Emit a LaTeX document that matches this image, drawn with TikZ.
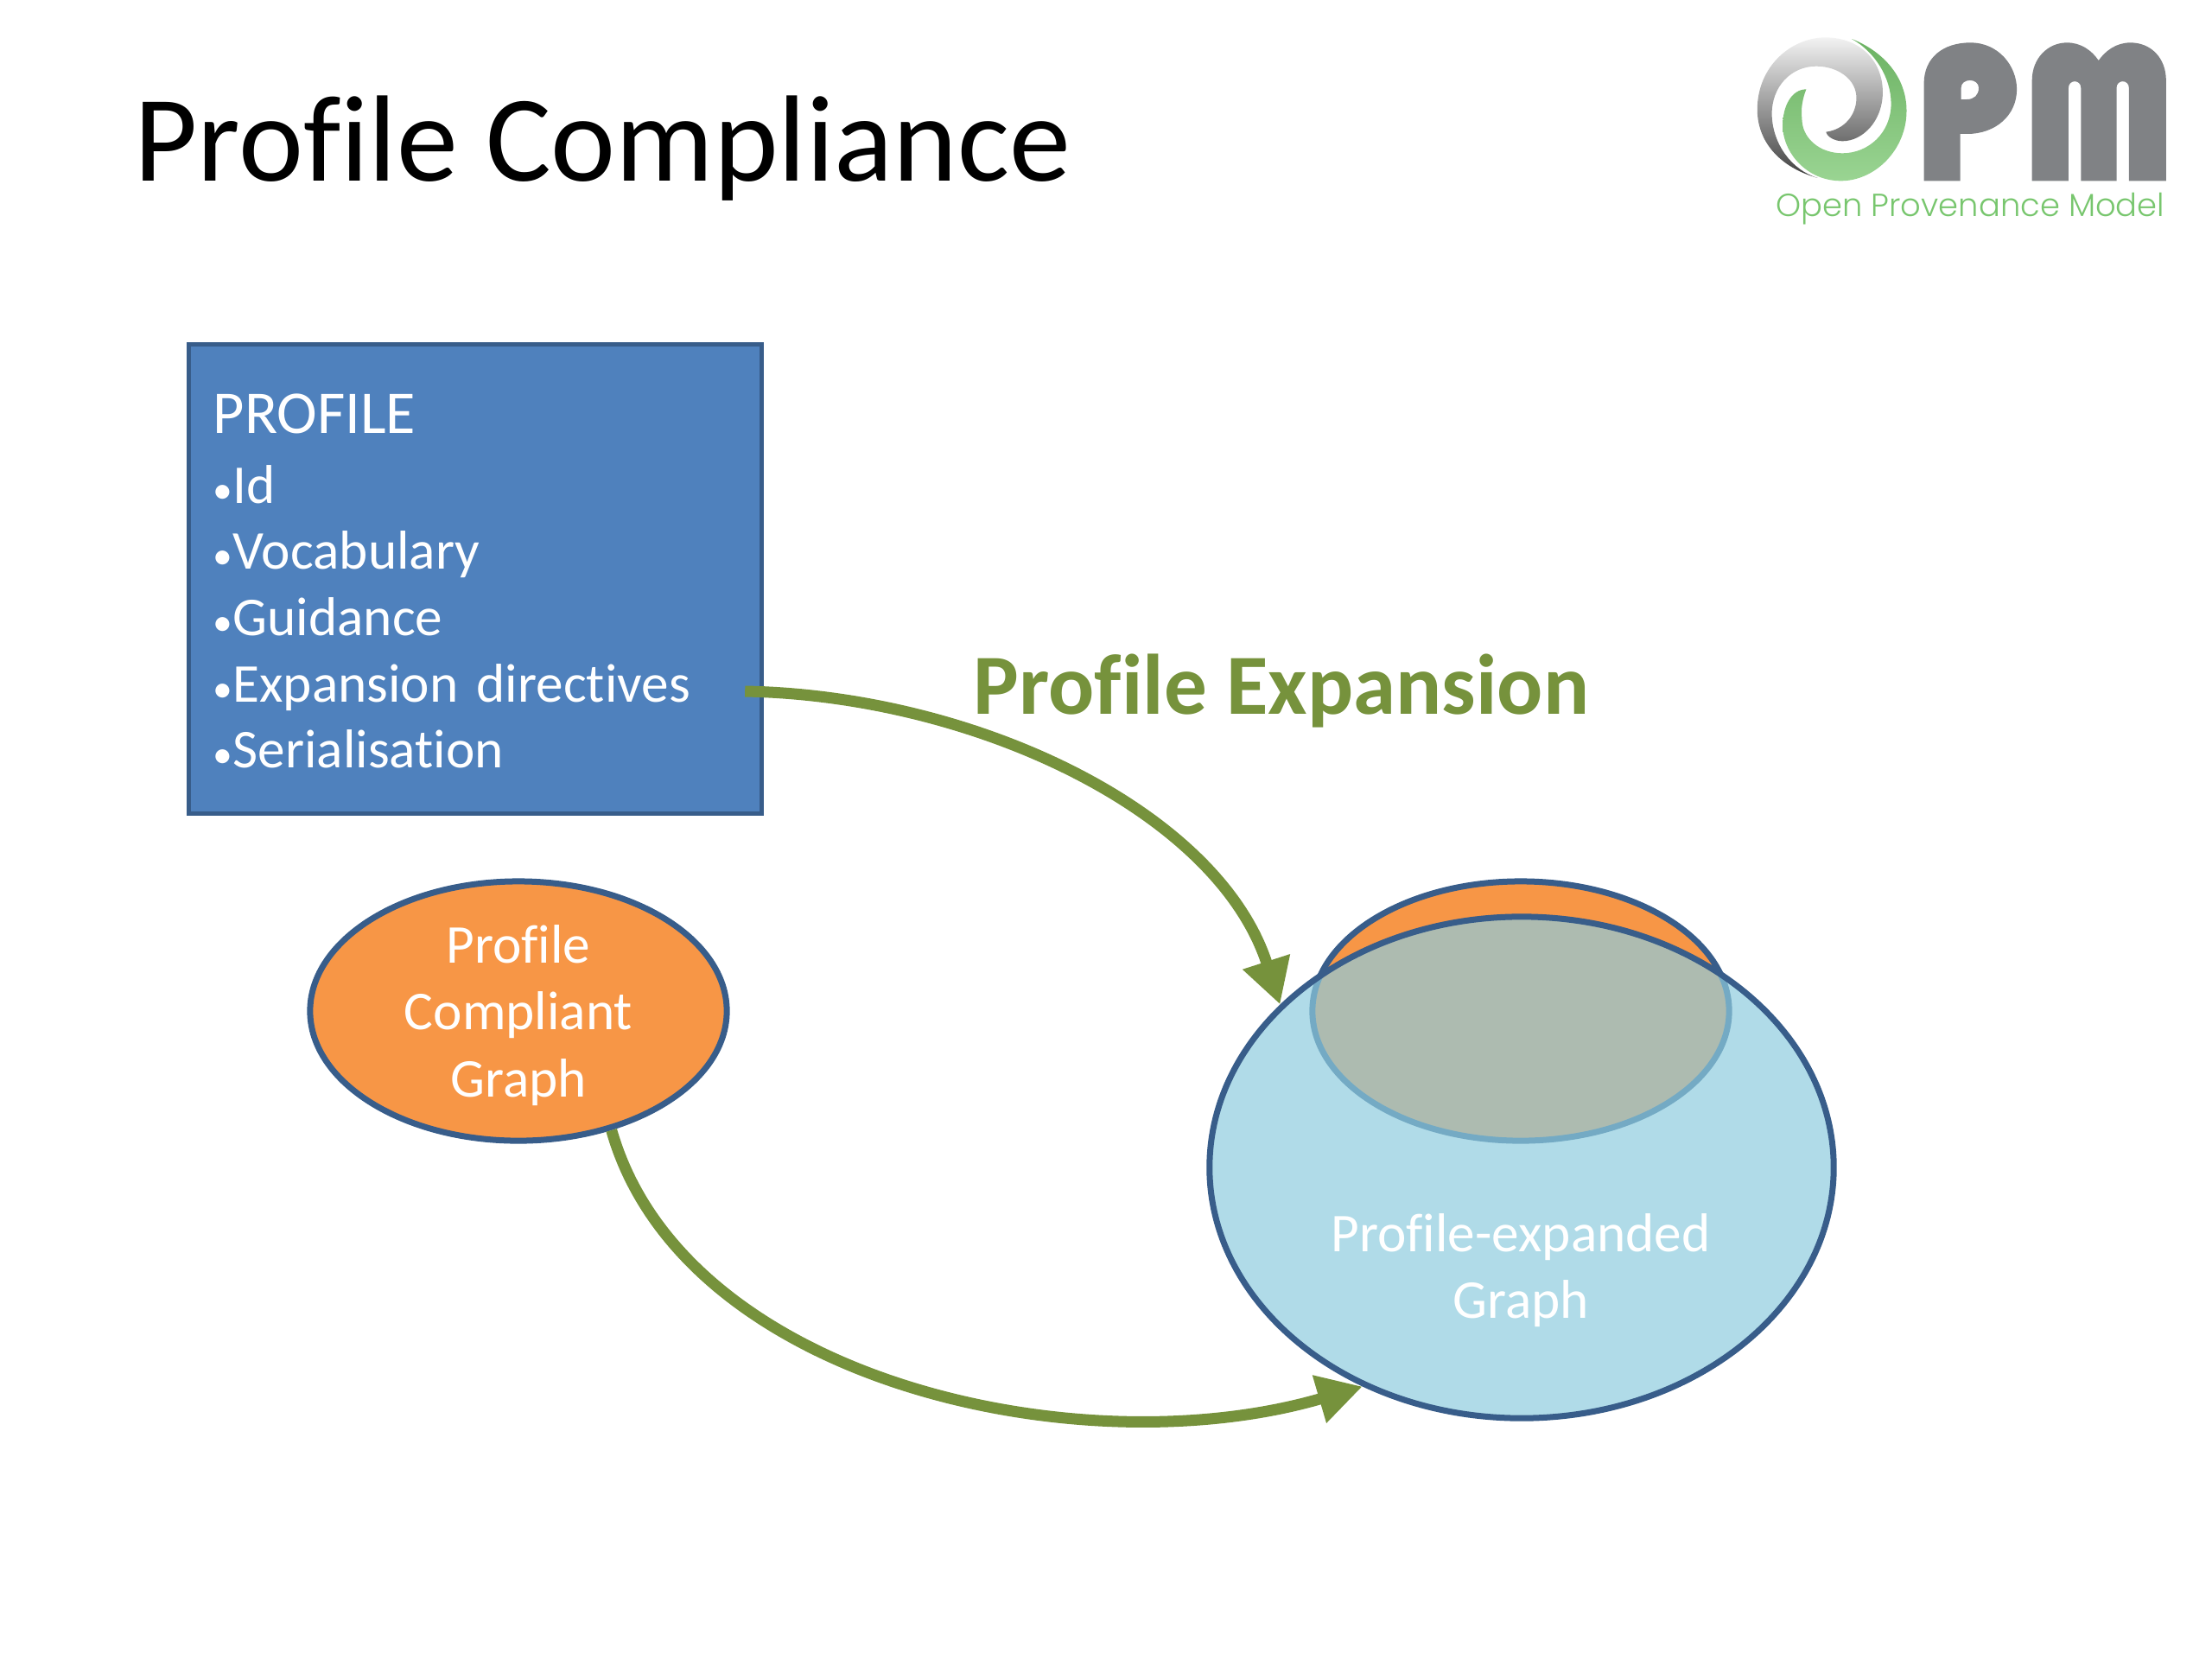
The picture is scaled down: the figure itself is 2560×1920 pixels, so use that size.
\documentclass[tikz,border=0pt]{standalone}
\usepackage{fontspec}
\setmainfont{Carlito}[Ligatures=NoCommon]
\newfontfamily\logofont{Poppins Light}
\usepackage{xcolor}
\definecolor{boxblue}{RGB}{79,129,189}
\definecolor{edgeblue}{RGB}{56,93,138}
\definecolor{graphorange}{RGB}{247,150,70}
\definecolor{graphaqua}{RGB}{142,204,222}
\definecolor{arrowgreen}{RGB}{118,146,60}
\definecolor{logogrey}{RGB}{128,130,133}
\definecolor{logogreen}{RGB}{120,198,110}
\newcommand{\dotitem}{{\fontsize{13}{22}\selectfont •}}
\usetikzlibrary{arrows.meta, shapes.geometric}

\begin{document}
\begin{tikzpicture}[
  x=0.01cm, y=-0.01cm,
  graph/.style={ellipse, draw=edgeblue, line width=0.07cm, inner sep=0pt},
  flow/.style={draw=arrowgreen, line width=0.13cm,
    -{Triangle[length=0.52cm, width=0.54cm]}},
  whitetext/.style={text=white, align=center, font=\fontsize{18}{22}\selectfont},
]
\useasboundingbox (0,0) rectangle (2560,1920);

\node[anchor=west, font=\fontsize{40.4}{48}\selectfont] (title) at (143,172) {Profile Compliance};

% the two graphs
\node[graph, fill=graphorange, minimum width=4.82cm, minimum height=3cm] (compliant) at (600,1170) {};
\node[whitetext] (compliantlabel) at (600,1175) {Profile\\Compliant\\Graph};
\node[graph, fill=graphorange, minimum width=4.82cm, minimum height=3cm] (inner) at (1760,1170) {};
\node[graph, fill=graphaqua, fill opacity=0.7, minimum width=7.22cm, minimum height=5.8cm] (expanded) at (1761,1351) {};
\node[whitetext] (expandedlabel) at (1760,1470) {Profile-expanded\\Graph};

\node[draw=edgeblue, fill=boxblue, line width=0.05cm, minimum width=6.63cm, minimum height=5.43cm,
  text width=6.06cm, inner sep=0pt, align=left, text=white, font=\fontsize{18}{21.8}\selectfont] (profile) at (550,670)
  {\rule{0pt}{14.5pt}{\fontsize{20}{22}\selectfont PROFILE}\\[1pt] \dotitem Id\\ \dotitem Vocabulary\\ \dotitem Guidance\\ \dotitem Expansion directives\\ \dotitem Serialisation};

\node[text=arrowgreen, font=\fontsize{28.2}{34}\selectfont\bfseries] (expansion) at (1483,799) {Profile Expansion};

\draw[flow] ([shift={(-22,130)}]profile.east) .. controls (1130,805) and (1410,940) .. (expanded.146.7);
\draw[flow] (compliant.-52) .. controls (790,1598) and (1250,1700) .. (expanded.234);

% logo
\begin{scope}[shift={(1980,20)}, xscale=0.3584, yscale=0.3333]
  \path[top color=black!5, bottom color=black!75]
    (345,558) .. controls (220,520) and (150,430) .. (150,320)
    .. controls (150,170) and (260,70) .. (370,70)
    .. controls (480,70) and (555,150) .. (555,260)
    .. controls (555,360) and (490,430) .. (425,430)
    .. controls (400,430) and (375,415) .. (372,398)
    .. controls (430,390) and (470,340) .. (470,280)
    .. controls (470,215) and (410,170) .. (340,170)
    .. controls (260,170) and (195,240) .. (197,340)
    .. controls (200,440) and (260,530) .. (345,558) -- cycle;
  \path[top color=logogreen!90!black, bottom color=logogreen!75!white]
    (455,75) .. controls (560,120) and (632,210) .. (632,325)
    .. controls (632,460) and (530,568) .. (420,568)
    .. controls (310,568) and (232,470) .. (232,375)
    .. controls (232,310) and (260,250) .. (308,250)
    .. controls (290,300) and (292,330) .. (295,365)
    .. controls (300,420) and (350,472) .. (425,472)
    .. controls (510,472) and (582,400) .. (582,300)
    .. controls (582,210) and (530,120) .. (455,75) -- cycle;
  \fill[logogrey, even odd rule]
    (688,568) -- (688,230) .. controls (688,140) and (750,88) .. (838,88)
    .. controls (930,88) and (988,170) .. (988,250)
    .. controls (988,340) and (920,405) .. (827,405) -- (805,405) -- (805,568) -- cycle
    (808,285) -- (808,245) .. controls (808,210) and (865,210) .. (865,245)
    .. controls (865,270) and (850,285) .. (827,285) -- cycle;
  \fill[logogrey]
    (1037,568) -- (1037,220) .. controls (1037,140) and (1090,88) .. (1150,88)
    .. controls (1195,88) and (1230,115) .. (1252,150)
    .. controls (1275,115) and (1310,88) .. (1355,88)
    .. controls (1420,88) and (1470,140) .. (1470,220) -- (1470,568)
    -- (1350,568) -- (1350,245) .. controls (1350,215) and (1310,215) .. (1310,245)
    -- (1310,568) -- (1195,568) -- (1195,245) .. controls (1195,215) and (1155,215) .. (1155,245)
    -- (1155,568) -- cycle;
\end{scope}
\node[text=logogreen, anchor=east, inner sep=0pt, font=\logofont\fontsize{10.5}{13}\selectfont] (logotext) at (2506,242) {Open Provenance Model};
\end{tikzpicture}
\end{document}
